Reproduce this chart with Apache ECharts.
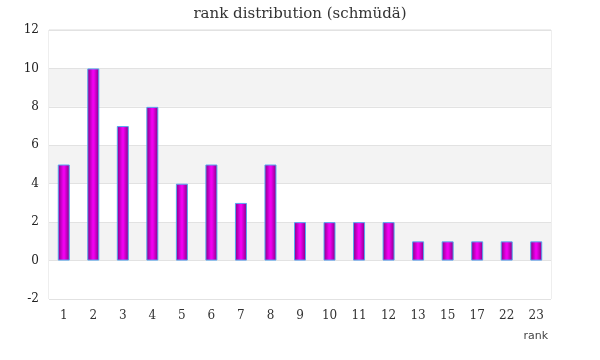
<!DOCTYPE html>
<html><head><meta charset="utf-8">
<script src="https://cdn.jsdelivr.net/npm/echarts@6/dist/echarts.min.js"></script>
<style>html,body{margin:0;padding:0;background:#fff}#c{width:600px;height:360px}</style>
</head><body><div id="c"></div>
<script>
const categories = ['1','2','3','4','5','6','7','8','9','10','11','12','13','15','17','22','23'];
const counts = [5,10,7,8,4,5,3,5,2,2,2,2,1,1,1,1,1];
const title = 'rank distribution (schmüdä)';
const xName = 'rank';
const font = 'DejaVu Serif';
const chart = echarts.init(document.getElementById('c'));
chart.setOption({
  animation: false,
  title: {text: title, left: 'center', top: 2, textStyle: {fontFamily: font, fontSize: 15, fontWeight: 'normal', color: '#333'}},
  grid: {left: 49, right: 49, top: 30, bottom: 61, show: true, borderColor: '#ddd', borderWidth: 1, containLabel: false},
  xAxis: {
    type: 'category', data: categories, name: xName, nameLocation: 'end',
    nameGap: 0,
    nameTextStyle: {fontFamily: 'DejaVu Sans', fontSize: 11, color: '#444', padding: [70, 3, 0, 0], verticalAlign: 'top', align: 'right'},
    axisLine: {show: false}, axisTick: {show: false},
    axisLabel: {fontFamily: font, fontSize: 12, color: '#333', margin: 11}
  },
  yAxis: {
    type: 'value', min: -2, max: 12, interval: 2,
    axisLine: {show: false}, axisTick: {show: false},
    axisLabel: {fontFamily: font, fontSize: 12, color: '#222', margin: 10},
    splitLine: {lineStyle: {color: '#e2e2e2'}},
    splitArea: {show: true, areaStyle: {color: ['#ffffff', '#f3f3f3']}}
  },
  series: [{
    type: 'bar', data: counts, barWidth: 12,
    itemStyle: {
      borderColor: '#55a8f0', borderWidth: 1,
      color: new echarts.graphic.LinearGradient(0, 0, 1, 0, [
        {offset: 0, color: '#800080'},
        {offset: 0.45, color: '#f000f0'},
        {offset: 0.55, color: '#f000f0'},
        {offset: 1, color: '#800080'}
      ])
    }
  }]
});
</script></body></html>
